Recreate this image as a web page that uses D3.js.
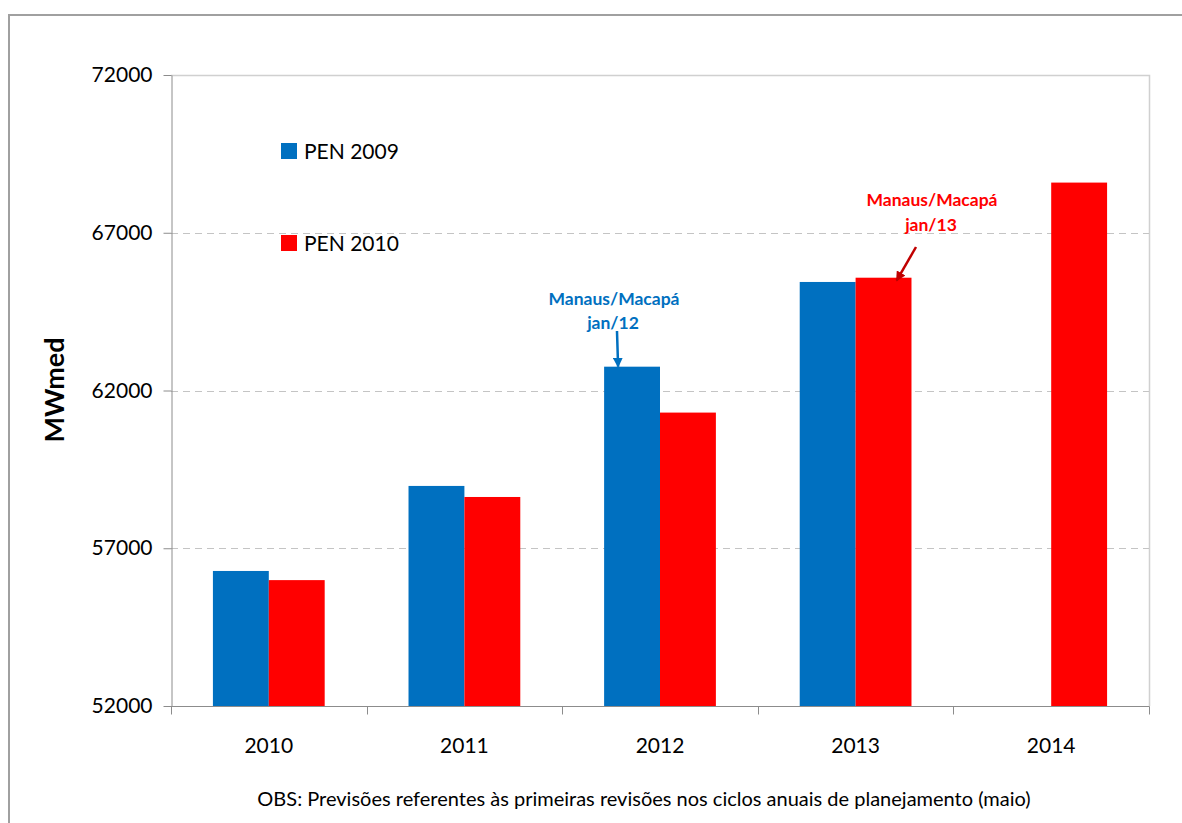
<!DOCTYPE html>
<html>
<head>
<meta charset="utf-8">
<script src="https://cdn.jsdelivr.net/npm/d3@7"></script>
<style>
  html, body { margin: 0; padding: 0; background: #fff; }
  svg { display: block; font-family: Lato, "Open Sans", sans-serif; }
</style>
</head>
<body>
<svg id="chart" width="1182" height="823"></svg>
<script>
// Demand forecasts (MWmed) by year, per planning cycle
const years = ["2010", "2011", "2012", "2013", "2014"];
const seriesNames = ["PEN 2009", "PEN 2010"];
const pen2009 = [56280, 58975, 62755, 65440, null];
const pen2010 = [55990, 58625, 61300, 65575, 68590];
const yTicks = [52000, 57000, 62000, 67000, 72000];
const seriesColors = ["#0070C0", "#FF0000"];

const svg = d3.select("#chart");
const plot = { left: 171, right: 1149, top: 75, bottom: 706 };

// outer frame
svg.append("path")
  .attr("d", "M9,830 L9,15 L1190,15")
  .attr("fill", "none").attr("stroke", "#A0A0A0").attr("stroke-width", 2);

const x0 = d3.scaleBand().domain(years).range([plot.left, plot.right]).padding(0);
const bw = x0.bandwidth();
const barW = bw / 3.5; // gap width 150%
const x1 = d3.scaleBand().domain(seriesNames).range([0.75 * barW, 2.75 * barW]).padding(0);
const y = d3.scaleLinear().domain([52000, 72000]).range([plot.bottom, plot.top]);

// plot-area border (top/right)
svg.append("path")
  .attr("d", `M${plot.left},${plot.top + 0.5} H${plot.right + 0.5} V${plot.bottom}`)
  .attr("fill", "none").attr("stroke", "#D0D0D0").attr("stroke-width", 1.5);

// dashed gridlines
svg.append("g").selectAll("line")
  .data(yTicks.filter(t => t > 52000 && t < 72000))
  .join("line")
  .attr("x1", plot.left).attr("x2", plot.right)
  .attr("y1", d => Math.round(y(d)) + 0.5).attr("y2", d => Math.round(y(d)) + 0.5)
  .attr("stroke", "#C4C4C4").attr("stroke-width", 1).attr("stroke-dasharray", "7,5");

// bars
const rows = years.map((yr, i) => ({ year: yr, values: [pen2009[i], pen2010[i]] }));
const groups = svg.append("g").selectAll("g")
  .data(rows).join("g")
  .attr("transform", d => `translate(${x0(d.year)},0)`);
groups.selectAll("rect")
  .data(d => d.values.map((v, k) => ({ v, k })).filter(e => e.v != null))
  .join("rect")
  .attr("x", e => x1(seriesNames[e.k]))
  .attr("width", x1.bandwidth())
  .attr("y", e => y(e.v))
  .attr("height", e => y(52000) - y(e.v))
  .attr("fill", e => seriesColors[e.k]);

// y axis
const yAxis = svg.append("g")
  .attr("transform", `translate(${plot.left + 0.5},0)`)
  .call(d3.axisLeft(y).tickValues(yTicks).tickFormat(d3.format("d")).tickSize(8).tickSizeOuter(0).tickPadding(11));
yAxis.select(".domain").attr("stroke", "#8C8C8C");
yAxis.selectAll(".tick line").attr("stroke", "#8C8C8C");
yAxis.selectAll(".tick text").attr("font-size", 21).attr("fill", "#000")
  .attr("font-family", "Lato, sans-serif");

// x axis with ticks at category boundaries
const xAxisG = svg.append("g").attr("transform", `translate(0,${plot.bottom + 0.5})`);
xAxisG.append("line").attr("x1", plot.left).attr("x2", plot.right + 0.5)
  .attr("stroke", "#8C8C8C");
const bounds = years.map(yv => x0(yv)).concat([plot.right]);
xAxisG.selectAll("line.tk").data(bounds).join("line").attr("class", "tk")
  .attr("x1", d => Math.round(d) + 0.5).attr("x2", d => Math.round(d) + 0.5)
  .attr("y1", 0).attr("y2", 8).attr("stroke", "#8C8C8C");
xAxisG.selectAll("text").data(years).join("text")
  .attr("x", d => x0(d) + bw / 2).attr("y", 46)
  .attr("text-anchor", "middle").attr("font-size", 21).attr("fill", "#000")
  .text(d => d);

// y-axis title
svg.append("text")
  .attr("transform", "translate(64,390) rotate(-90)")
  .attr("text-anchor", "middle").attr("font-size", 27).attr("font-weight", "bold")
  .text("MWmed");

// legend
const legend = svg.append("g");
seriesNames.forEach((name, i) => {
  const ly = 143 + i * 92;
  legend.append("rect").attr("x", 281).attr("y", ly).attr("width", 16).attr("height", 16)
    .attr("fill", seriesColors[i]);
  legend.append("text").attr("x", 304).attr("y", ly + 16).attr("font-size", 21)
    .attr("fill", "#000").text(name);
});

// arrowheads
const defs = svg.append("defs");
[["arrBlue", "#0070C0"], ["arrRed", "#C00000"]].forEach(([id, c]) => {
  defs.append("marker").attr("id", id).attr("viewBox", "0 0 10 10")
    .attr("refX", 9).attr("refY", 5).attr("markerWidth", 4).attr("markerHeight", 4)
    .attr("orient", "auto-start-reverse")
    .append("path").attr("d", "M0,0 L10,5 L0,10 z").attr("fill", c);
});

// annotation for PEN 2009, 2012
const b12x = x0("2012") + x1("PEN 2009");
const b12y = y(pen2009[2]);
const ann1 = svg.append("g").attr("fill", "#0070C0").attr("font-weight", "bold")
  .attr("font-size", 17.5).attr("text-anchor", "middle");
ann1.append("text").attr("x", 614).attr("y", 305).text("Manaus/Macapá");
ann1.append("text").attr("x", 613).attr("y", 329).text("jan/12");
svg.append("line").attr("x1", 617).attr("y1", 331).attr("x2", b12x + 14).attr("y2", b12y)
  .attr("stroke", "#0070C0").attr("stroke-width", 2.5).attr("marker-end", "url(#arrBlue)");

// annotation for PEN 2010, 2013
const b13x = x0("2013") + x1("PEN 2010");
const b13y = y(pen2010[3]);
const ann2 = svg.append("g").attr("fill", "#FF0000").attr("font-weight", "bold")
  .attr("font-size", 17.5).attr("text-anchor", "middle");
ann2.append("text").attr("x", 932).attr("y", 206).text("Manaus/Macapá");
ann2.append("text").attr("x", 931).attr("y", 231).text("jan/13");
svg.append("line").attr("x1", 916).attr("y1", 247).attr("x2", b13x + 41).attr("y2", b13y + 3)
  .attr("stroke", "#C00000").attr("stroke-width", 2.5).attr("marker-end", "url(#arrRed)");

// footnote
svg.append("text").attr("x", 644).attr("y", 806).attr("text-anchor", "middle")
  .attr("font-size", 20).attr("fill", "#000")
  .text("OBS: Previsões referentes às primeiras revisões nos ciclos anuais de planejamento (maio)");
</script>
</body>
</html>
